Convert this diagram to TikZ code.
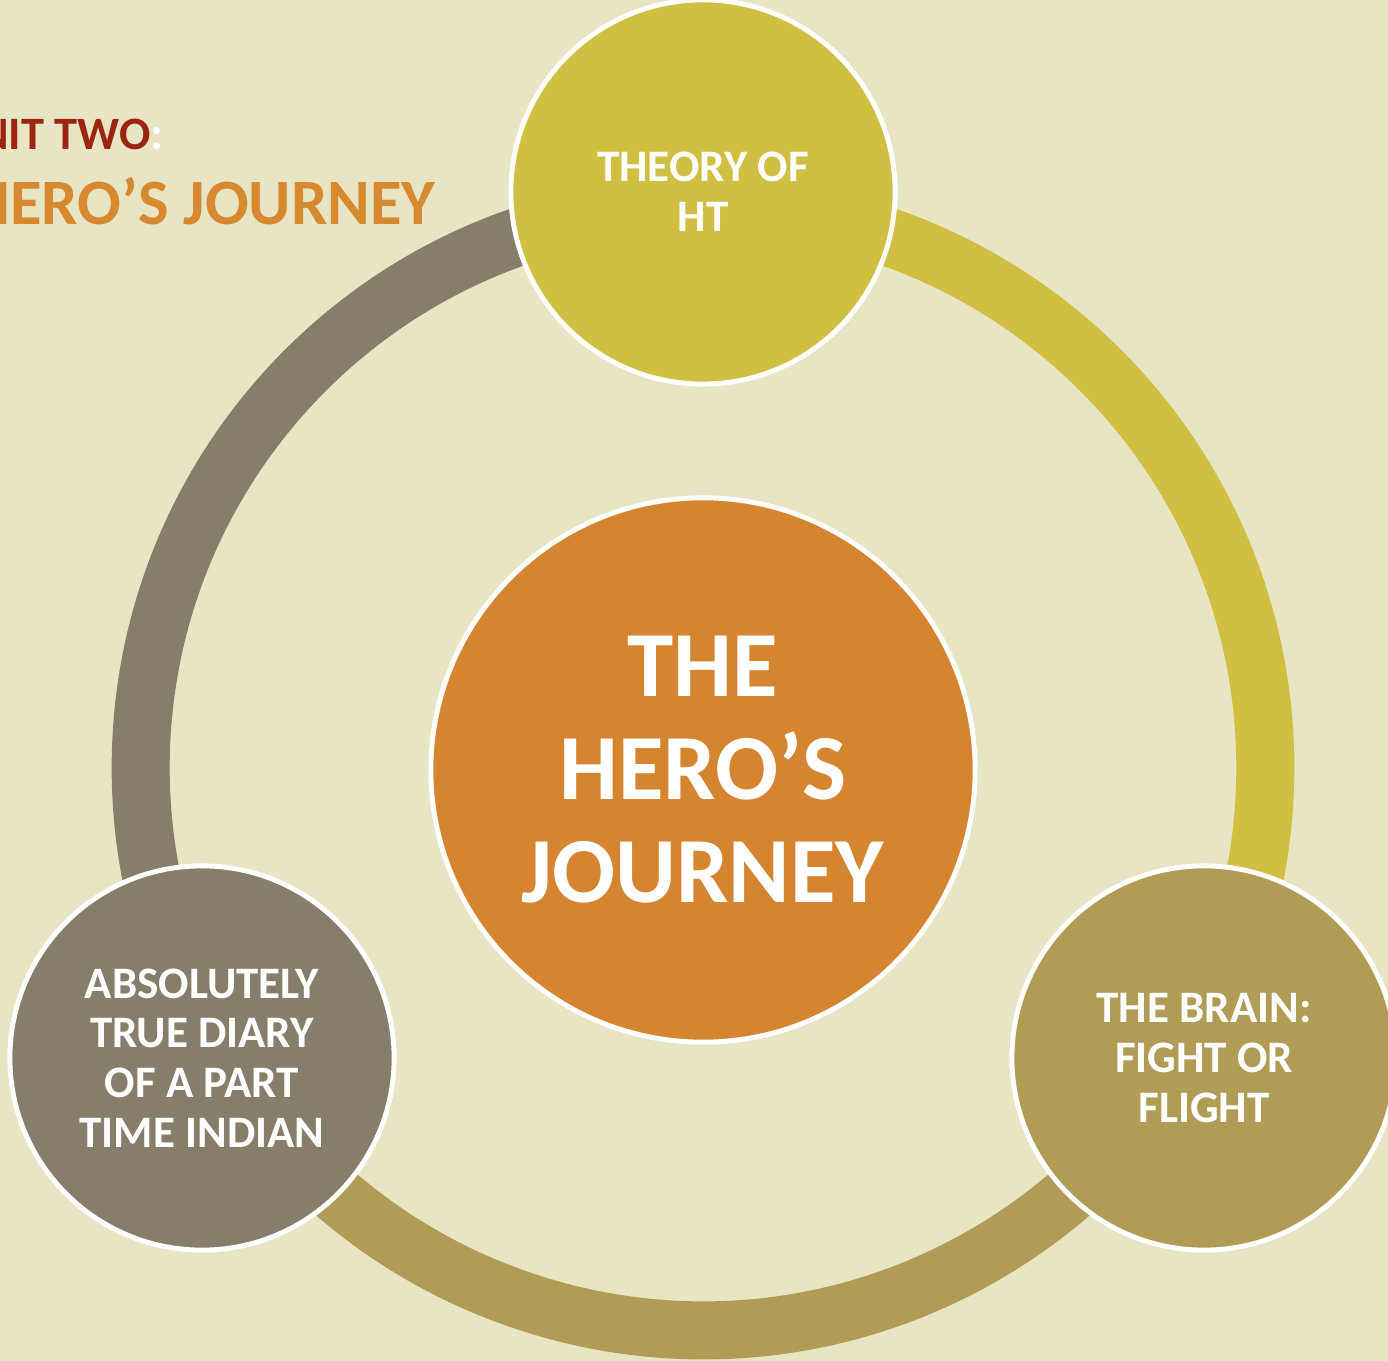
\documentclass[tikz,border=0pt]{standalone}
\usepackage{fontspec}
\setmainfont{Carlito}
\definecolor{paper}{HTML}{E8E5C5}
\definecolor{stonegray}{HTML}{877D6B}
\definecolor{mustard}{HTML}{D1BF42}
\definecolor{olive}{HTML}{B09C55}
\definecolor{amber}{HTML}{D5852F}
\definecolor{rust}{HTML}{9C2410}
\definecolor{ochre}{HTML}{D6892F}
\begin{document}
\begin{tikzpicture}[x=0.01cm,y=0.01cm,
    stage/.style={circle,draw=white,line width=1.4pt,minimum size=3.84cm,inner sep=0pt,
        text=white,align=center,font=\bfseries\fontsize{12.8}{14.1}\selectfont},
    band/.style={line width=5.8mm}]
\useasboundingbox[fill=paper](0,0)rectangle(1388,1361);
\clip(0,0)rectangle(1388,1361);
\coordinate(hub)at(703,593);
% ring behind the circles
\draw[band,stonegray]([shift={(90:5.62cm)}]hub)arc[start angle=90,end angle=210,radius=5.62cm];
\draw[band,mustard]([shift={(90:5.62cm)}]hub)arc[start angle=90,end angle=-30,radius=5.62cm];
\draw[band,olive]([shift={(210:5.62cm)}]hub)arc[start angle=210,end angle=330,radius=5.62cm];
% title
\node[anchor=base east,inner sep=0pt,text=rust,font=\bfseries\fontsize{13.2}{15}\selectfont](unit)at(164,1211){UNIT TWO\textcolor{white}{:}};
\node[anchor=base east,inner sep=0pt,text=ochre,font=\bfseries\fontsize{18.4}{21}\selectfont](topic)at(436,1136){THE HERO’S JOURNEY};
% circles
\node[stage,fill=amber,minimum size=5.44cm,font=\bfseries\fontsize{26.5}{29.3}\selectfont](journey)at(703,591){THE\\HERO’S\\JOURNEY};
\node[stage,fill=mustard](theory)at(703,1169){THEORY OF\\HT};
\node[stage,fill=olive](brain)at(1204,303){THE BRAIN:\\FIGHT OR\\FLIGHT};
\node[stage,fill=stonegray](diary)at(202,303){ABSOLUTELY\\TRUE DIARY\\OF A PART\\TIME INDIAN};
\end{tikzpicture}
\end{document}
